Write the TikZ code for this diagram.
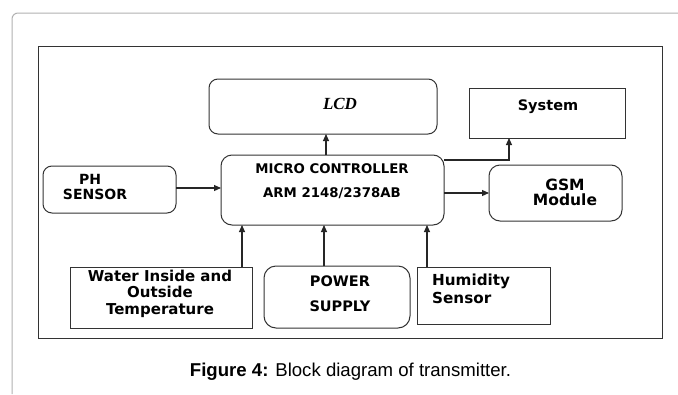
\documentclass[tikz,border=0pt]{standalone}
\usepackage{fontspec}
\usetikzlibrary{arrows.meta}
\newfontfamily\boxfont{DejaVu Sans}
\newfontfamily\capfont{Liberation Sans}
\newfontfamily\lcdfont{Liberation Serif}
\begin{document}
\begin{tikzpicture}[x=1pt,y=-1pt,
  box/.style={draw=black!80, line width=1pt, inner sep=0pt, outer sep=0pt},
  rbox/.style={box, rounded corners=9pt},
  txt/.style={inner sep=0pt, font=\boxfont\bfseries\fontsize{13.5}{15}\selectfont},
  arr/.style={draw=black!85, line width=1.1pt, -{Triangle[length=7pt,width=6pt]}}]
\useasboundingbox (0,0) rectangle (678,394);
\fill[white] (0,0) rectangle (678,394);
% outer frame
\draw[black!30, line width=1pt, rounded corners=6pt] (12,394) -- (12,13) -- (678,13);
% inner frame
\node[box, minimum width=624pt, minimum height=292pt] (frame) at (350,192) {};
% boxes
\node[rbox, minimum width=228pt, minimum height=55pt] (lcd) at (323,106.5) {};
\node[box, minimum width=156pt, minimum height=50pt] (sys) at (547,113) {};
\node[rbox, minimum width=223pt, minimum height=70pt, rounded corners=11pt] (mc) at (332.5,190) {};
\node[rbox, minimum width=133pt, minimum height=47pt] (ph) at (109.5,189.5) {};
\node[rbox, minimum width=133pt, minimum height=56pt, rounded corners=11pt] (gsm) at (555.5,193) {};
\node[box, minimum width=182pt, minimum height=61pt] (water) at (161,297.5) {};
\node[rbox, minimum width=146pt, minimum height=62pt, rounded corners=12pt] (power) at (337,297) {};
\node[box, minimum width=133pt, minimum height=57pt] (hum) at (483.5,295.5) {};
% texts
\node[inner sep=0pt, font=\lcdfont\bfseries\itshape\fontsize{17}{18}\selectfont] (lcdt) at (340,104) {LCD};
\node[txt, font=\boxfont\bfseries\fontsize{14.5}{15}\selectfont] (syst) at (548,107) {System};
\node[txt, align=center, font=\boxfont\bfseries\fontsize{13.3}{24}\selectfont] (mct) at (332,181) {MICRO CONTROLLER\\ARM 2148/2378AB};
\node[txt, font=\boxfont\bfseries\fontsize{14}{15}\selectfont] (pht1) at (90,179) {PH};
\node[txt, font=\boxfont\bfseries\fontsize{14}{15}\selectfont] (pht2) at (95,194) {SENSOR};
\node[txt, align=center, font=\boxfont\bfseries\fontsize{15.5}{15.5}\selectfont] (gsmt) at (565,192.5) {GSM\\Module};
\node[txt, align=center, font=\boxfont\bfseries\fontsize{15}{16.5}\selectfont] (watert) at (160,293.5) {Water Inside and\\Outside\\Temperature};
\node[txt, align=center, font=\boxfont\bfseries\fontsize{14.5}{25}\selectfont] (powert) at (340,293.5) {POWER\\SUPPLY};
\node[txt, anchor=west, align=left, font=\boxfont\bfseries\fontsize{15.2}{18}\selectfont] (humt) at (432,289) {Humidity\\Sensor};
% caption
\node[inner sep=0pt, anchor=base, font=\capfont\fontsize{18.6}{20}\selectfont] (cap) at (350.5,376) {\textbf{Figure 4:} Block diagram of transmitter.};
% connector helpers
\coordinate (xl) at (326,0);
\coordinate (ys) at (509,160);
\coordinate (yph) at (0,188);
\coordinate (xw) at (242,0);
\coordinate (xp) at (324,0);
\coordinate (xh) at (427,0);
% connectors
\draw[arr] (xl |- mc.north) -- (xl |- lcd.south);
\draw[arr] (ys -| mc.east) -- (ys) -- (ys |- sys.south);
\draw[arr] (yph -| ph.east) -- (yph -| mc.west);
\draw[arr] (mc.east |- gsm.west) -- (gsm.west);
\draw[arr] (xw |- water.north) -- (xw |- mc.south);
\draw[arr] (xp |- power.north) -- (xp |- mc.south);
\draw[arr] (xh |- hum.north) -- (xh |- mc.south);
\end{tikzpicture}
\end{document}
